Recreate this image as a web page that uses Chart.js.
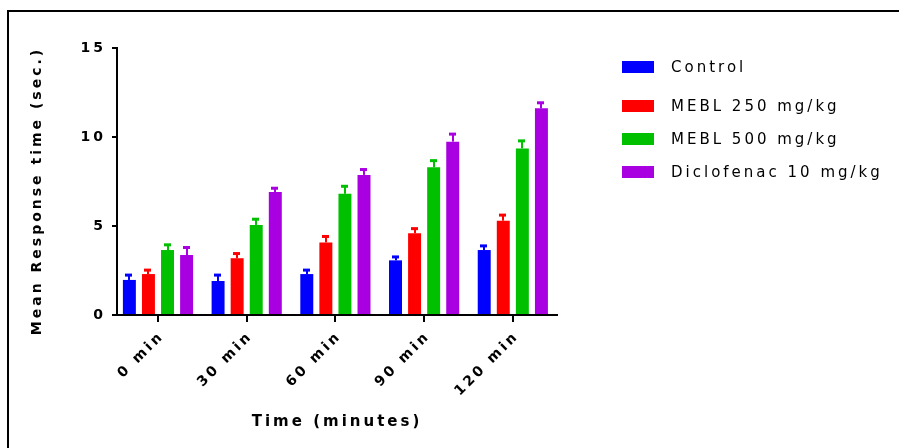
<!DOCTYPE html>
<html>
<head>
<meta charset="utf-8">
<script src="https://cdn.jsdelivr.net/npm/chart.js@4.4.0/dist/chart.umd.min.js"></script>
<style>
  html, body { margin: 0; padding: 0; background: #fff; }
  #wrap { position: relative; width: 899px; height: 448px; }
  #frame {
    position: absolute; left: 7px; top: 10px; right: 0; bottom: 0;
    border-top: 2px solid #000; border-left: 2px solid #000;
    pointer-events: none;
  }
</style>
</head>
<body>
<div id="wrap">
  <canvas id="chart" width="899" height="448"></canvas>
  <div id="frame"></div>
</div>
<script>
// 数据
const categories = ['0 min', '30 min', '60 min', '90 min', '120 min'];
const seriesNames = ['Control', 'MEBL 250 mg/kg', 'MEBL 500 mg/kg', 'Diclofenac 10 mg/kg'];
const seriesColors = ['#0000ff', '#ff0000', '#00c000', '#a800e0'];

const control = [1.97, 1.91, 2.30, 3.07, 3.65];
const mebl250 = [2.30, 3.19, 4.08, 4.59, 5.30];
const mebl500 = [3.65, 5.06, 6.81, 8.30, 9.36];
const diclofenac = [3.37, 6.91, 7.87, 9.74, 11.61];

const controlErr = [0.30, 0.36, 0.25, 0.22, 0.26];
const mebl250Err = [0.25, 0.29, 0.36, 0.29, 0.34];
const mebl500Err = [0.32, 0.35, 0.45, 0.40, 0.45];
const diclofenacErr = [0.45, 0.24, 0.33, 0.45, 0.34];

const yTicks = [0, 5, 10, 15];

const FONT = '"DejaVu Sans", "Liberation Sans", Arial, sans-serif';

// 字间距
const spacingPlugin = {
  id: 'spacing',
  beforeLayout(chart) { chart.ctx.letterSpacing = '3px'; },
  beforeDraw(chart) { chart.ctx.letterSpacing = '3px'; }
};

// 误差线
const errorBarPlugin = {
  id: 'errorBars',
  afterDatasetsDraw(chart) {
    const ctx = chart.ctx;
    const yScale = chart.scales.y;
    chart.data.datasets.forEach((ds, i) => {
      const meta = chart.getDatasetMeta(i);
      meta.data.forEach((bar, j) => {
        const top = yScale.getPixelForValue(ds.data[j] + ds.errors[j]);
        ctx.save();
        ctx.fillStyle = ds.backgroundColor;
        ctx.fillRect(Math.round(bar.x) - 1, top, 2, bar.y - top);
        ctx.fillRect(Math.round(bar.x) - 4, top - 1, 7, 3);
        ctx.restore();
      });
    });
  }
};

// 图例和纵轴标题
const legendPlugin = {
  id: 'sideLegend',
  afterDraw(chart) {
    const ctx = chart.ctx;
    const rows = [67, 106, 139, 172];
    ctx.save();
    ctx.letterSpacing = '3px';
    ctx.font = '15px ' + FONT;
    ctx.textBaseline = 'middle';
    ctx.textAlign = 'left';
    chart.data.datasets.forEach((ds, i) => {
      const y = rows[i];
      ctx.fillStyle = ds.backgroundColor;
      ctx.fillRect(622, y - 6, 32, 12);
      ctx.fillStyle = '#000';
      ctx.fillText(ds.label, 671, y + 1);
    });
    ctx.restore();

    ctx.save();
    ctx.letterSpacing = '3px';
    ctx.font = 'bold 14px ' + FONT;
    ctx.fillStyle = '#000';
    ctx.textAlign = 'center';
    ctx.textBaseline = 'middle';
    ctx.translate(37, 191);
    ctx.rotate(-Math.PI / 2);
    ctx.fillText('Mean Response time (sec.)', 0, 0);
    ctx.restore();
  }
};

const values = [control, mebl250, mebl500, diclofenac];
const errors = [controlErr, mebl250Err, mebl500Err, diclofenacErr];

const datasets = seriesNames.map((name, i) => ({
  label: name,
  data: values[i],
  errors: errors[i],
  backgroundColor: seriesColors[i],
  borderWidth: 0,
  categoryPercentage: 0.86,
  barPercentage: 0.68
}));

new Chart(document.getElementById('chart').getContext('2d'), {
  type: 'bar',
  data: { labels: categories, datasets: datasets },
  options: {
    responsive: false,
    animation: false,
    devicePixelRatio: 1,
    layout: { padding: { left: 0, top: 48, right: 342, bottom: 0 } },
    plugins: {
      legend: { display: false },
      tooltip: { enabled: false }
    },
    scales: {
      x: {
        offset: true,
        grid: { offset: false, drawOnChartArea: false, drawTicks: true, tickLength: 7, color: '#000', lineWidth: 2 },
        border: { display: true, color: '#000', width: 2 },
        ticks: {
          autoSkip: false,
          minRotation: 45,
          maxRotation: 45,
          padding: 6,
          labelOffset: 4,
          color: '#000',
          font: { family: FONT, size: 14, weight: 'bold' }
        },
        title: {
          display: true,
          text: 'Time (minutes)',
          color: '#000',
          font: { family: FONT, size: 15, weight: 'bold' },
          padding: { top: 0, bottom: 17 }
        },
        afterFit(scale) { scale.height = 133; },
        // 第一组柱子离纵轴稍近一点
        afterUpdate(scale) {
          scale._startValue = -0.462;
          scale._valueRange = 4.96;
        }
      },
      y: {
        min: 0,
        max: 15,
        afterBuildTicks(scale) { scale.ticks = yTicks.map(v => ({ value: v })); },
        grid: { drawOnChartArea: false, drawTicks: true, tickLength: 5, color: '#000', lineWidth: 2 },
        border: { display: true, color: '#000', width: 2 },
        ticks: {
          padding: 6,
          color: '#000',
          font: { family: FONT, size: 14, weight: 'bold' }
        },
        title: { display: false },
        afterFit(scale) { scale.width = 117; }
      }
    }
  },
  plugins: [spacingPlugin, errorBarPlugin, legendPlugin]
});
</script>
</body>
</html>
